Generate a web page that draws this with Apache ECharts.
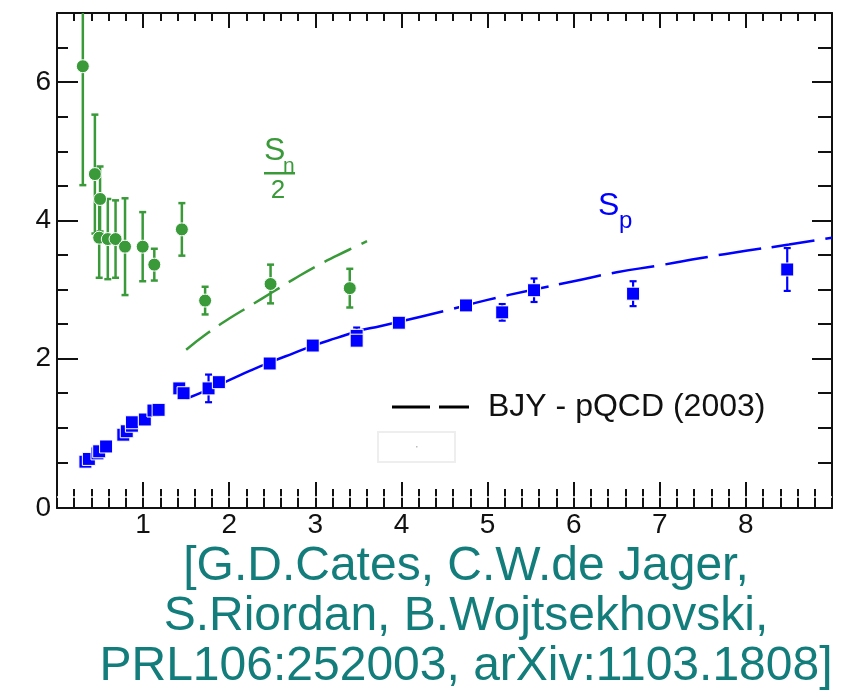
<!DOCTYPE html>
<html>
<head>
<meta charset="utf-8">
<script src="https://cdn.jsdelivr.net/npm/echarts@6/dist/echarts.min.js"></script>
<style>
  html, body { margin: 0; padding: 0; background: #ffffff; }
  #chart { width: 843px; height: 697px; }
</style>
</head>
<body>
<div id="chart"></div>
<script>
// Neutron S_n/2 measurements: x, value, symmetric error
const snX   = [0.30, 0.44, 0.50, 0.49, 0.59, 0.68, 0.79, 0.995, 1.13, 1.45, 1.72, 2.48, 3.40];
const snY   = [6.23, 4.67, 4.31, 3.75, 3.73, 3.73, 3.62, 3.62, 3.36, 3.87, 2.84, 3.08, 3.02];
const snErr = [1.72, 0.86, 0.47, 0.58, 0.58, 0.56, 0.70, 0.50, 0.23, 0.38, 0.20, 0.28, 0.28];

// Proton S_p measurements: x, value, symmetric error
const spX   = [0.33, 0.37, 0.47, 0.49, 0.57, 0.77, 0.81, 0.87, 0.87, 1.02, 1.12, 1.18, 1.42, 1.47, 1.76, 1.88,
               2.47, 2.97, 3.48, 3.48, 3.97, 4.75, 5.17, 5.54, 6.69, 8.48];
const spY   = [0.51, 0.55, 0.63, 0.66, 0.73, 0.90, 0.95, 1.03, 1.08, 1.12, 1.25, 1.26, 1.57, 1.50, 1.57, 1.66,
               1.93, 2.19, 2.33, 2.26, 2.52, 2.77, 2.67, 2.99, 2.94, 3.29];
const spErr = [0.03, 0.03, 0.03, 0.03, 0.03, 0.03, 0.03, 0.03, 0.03, 0.03, 0.03, 0.03, 0.03, 0.03, 0.20, 0.03,
               0.03, 0.03, 0.12, 0.03, 0.03, 0.03, 0.12, 0.17, 0.18, 0.31];

// BJY pQCD prediction for S_n/2
const bjyNX = [1.50, 1.75, 2.00, 2.25, 2.50, 2.75, 3.00, 3.25, 3.50, 3.60];
const bjyNY = [2.13, 2.37, 2.58, 2.77, 2.96, 3.15, 3.33, 3.49, 3.64, 3.70];

// BJY pQCD prediction for S_p (solid part, then dashed continuation)
const bjyPX1 = [1.50, 1.75, 2.00, 2.25, 2.50, 2.75, 3.00, 3.25, 3.50, 3.75, 4.00];
const bjyPY1 = [1.42, 1.55, 1.69, 1.83, 1.96, 2.08, 2.20, 2.30, 2.40, 2.47, 2.54];
const bjyPX2 = [4.00, 4.50, 5.00, 5.50, 6.00, 6.50, 7.00, 7.50, 8.00, 8.50, 9.00];
const bjyPY2 = [2.54, 2.69, 2.85, 2.99, 3.12, 3.25, 3.35, 3.46, 3.56, 3.65, 3.75];

// Axis ranges and tick positions
const xMin = 0, xMax = 9;
const yMin = -0.16, yMax = 7;
const yMajorTicks = [2, 4, 6];
const yMinorTicks = [0.5, 1, 1.5, 2.5, 3, 3.5, 4.5, 5, 5.5, 6.5];
const yLabelValues = [yMin, 2, 4, 6];

const legendName = 'BJY - pQCD (2003)';
const citation = '[G.D.Cates, C.W.de Jager,\nS.Riordan, B.Wojtsekhovski,\nPRL106:252003, arXiv:1103.1808]';

const GREEN = '#3a9a3a';
const BLUE = '#0000ff';
const INK = '#111111';
const TEAL = '#137d7b';
const FONT = '"Liberation Sans", Arial, Helvetica, sans-serif';

const zip = (xs, ...cols) => xs.map((x, i) => [x, ...cols.map(c => c[i])]);

function errorBars(color, cap, width) {
  return function (params, api) {
    const x = api.value(0), y = api.value(1), e = api.value(2);
    const top = api.coord([x, y + e]);
    const bot = api.coord([x, y - e]);
    const h = cap / 2;
    const st = { stroke: color, lineWidth: width };
    return {
      type: 'group',
      children: [
        { type: 'line', shape: { x1: top[0], y1: top[1], x2: bot[0], y2: bot[1] }, style: st },
        { type: 'line', shape: { x1: top[0] - h, y1: top[1], x2: top[0] + h, y2: top[1] }, style: st },
        { type: 'line', shape: { x1: bot[0] - h, y1: bot[1], x2: bot[0] + h, y2: bot[1] }, style: st }
      ]
    };
  };
}

const axisLineStyle = { color: INK, width: 2 };
const tickStyle = { color: INK, width: 2 };

function xAxisDef(position, majorLen, minorLen, labels) {
  return {
    type: 'value', min: xMin, max: xMax, interval: 1, position: position,
    axisLine: { show: true, onZero: false, lineStyle: axisLineStyle },
    axisTick: { show: true, inside: true, length: majorLen, lineStyle: tickStyle },
    minorTick: { show: true, splitNumber: 5, length: minorLen, lineStyle: tickStyle },
    axisLabel: labels ? {
      show: true, showMinLabel: false, showMaxLabel: false,
      fontSize: 28, fontFamily: FONT, color: INK, margin: 3
    } : { show: false },
    splitLine: { show: false }
  };
}

function yAxisDef(position, tickValues, tickLen, showLine, labels) {
  return {
    type: 'value', min: yMin, max: yMax, position: position,
    axisLine: { show: showLine, onZero: false, lineStyle: axisLineStyle },
    axisTick: { show: true, inside: true, length: tickLen, customValues: tickValues, lineStyle: tickStyle },
    axisLabel: labels ? {
      show: true, customValues: yLabelValues,
      formatter: v => (v < 0 ? '0' : String(v)),
      fontSize: 28, fontFamily: FONT, color: INK, margin: 6
    } : { show: false },
    splitLine: { show: false }
  };
}

const chart = echarts.init(document.getElementById('chart'), null, { renderer: 'canvas' });

chart.setOption({
  backgroundColor: '#ffffff',
  animation: false,
  grid: { left: 57, top: 13, right: 11, bottom: 189, containLabel: false },
  xAxis: [
    xAxisDef('bottom', 26, 19, true),
    xAxisDef('top', 15, 8, false)
  ],
  yAxis: [
    yAxisDef('left', yMajorTicks, 21, true, true),
    yAxisDef('left', yMinorTicks, 11, false, false),
    yAxisDef('right', yMajorTicks, 20, true, false),
    yAxisDef('right', yMinorTicks, 14, false, false)
  ],
  legend: {
    left: 387, top: 386,
    itemWidth: 77, itemHeight: 3,
    data: [{ name: legendName, icon: 'path://M0,0H38V3H0Z M47,0H77V3H47Z' }],
    itemStyle: { color: '#000000', borderWidth: 0 },
    textStyle: { fontSize: 32, fontFamily: FONT, color: INK, padding: [0, 0, 0, 14] }
  },
  series: [
    {
      name: legendName, type: 'line', data: [], symbol: 'none', color: '#000000',
      itemStyle: { color: '#000000' },
      lineStyle: { color: '#000000', width: 3, type: [38, 9] }
    },
    {
      type: 'line', name: 'BJY n', data: zip(bjyNX, bjyNY), symbol: 'none', smooth: true,
      lineStyle: { color: GREEN, width: 2.5, type: [30, 11] }, z: 2, silent: true,
      markLine: {
        silent: true, symbol: 'none', label: { show: false },
        lineStyle: { color: '#ffffff', width: 1.5, type: 'solid' },
        data: [{ yAxis: 0 }]
      }
    },
    {
      type: 'line', name: 'BJY p solid', data: zip(bjyPX1, bjyPY1), symbol: 'none', smooth: true,
      lineStyle: { color: BLUE, width: 2.5, type: 'solid' }, z: 2, silent: true
    },
    {
      type: 'line', name: 'BJY p dashed', data: zip(bjyPX2, bjyPY2), symbol: 'none', smooth: true,
      lineStyle: { color: BLUE, width: 2.5, type: [43, 11] }, z: 2, silent: true
    },
    {
      type: 'custom', name: 'Sn err', data: zip(snX, snY, snErr),
      renderItem: errorBars(GREEN, 7, 2.5), encode: { x: 0, y: 1 }, clip: true, z: 3, silent: true
    },
    {
      type: 'custom', name: 'Sp err', data: zip(spX, spY, spErr),
      renderItem: errorBars(BLUE, 7, 2.2), encode: { x: 0, y: 1 }, clip: true, z: 3, silent: true
    },
    {
      type: 'scatter', name: 'Sn/2', data: zip(snX, snY), symbol: 'circle', symbolSize: 13,
      itemStyle: { color: GREEN, borderColor: '#ffffff', borderWidth: 1, opacity: 1 }, z: 4
    },
    {
      type: 'scatter', name: 'Sp', data: zip(spX, spY), symbol: 'rect', symbolSize: 13,
      itemStyle: { color: BLUE, borderColor: '#ffffff', borderWidth: 1, opacity: 1 }, z: 4
    }
  ],
  graphic: [
    // S_p label
    { type: 'text', x: 598, y: 206, style: { text: 'S', font: '32px ' + FONT, fill: BLUE, textAlign: 'left', textVerticalAlign: 'middle', align: 'left', verticalAlign: 'middle' } },
    { type: 'text', x: 619, y: 221, style: { text: 'p', font: '24px ' + FONT, fill: BLUE, textAlign: 'left', textVerticalAlign: 'middle', align: 'left', verticalAlign: 'middle' } },
    // S_n over 2 label
    { type: 'text', x: 264, y: 151, style: { text: 'S', font: '32px ' + FONT, fill: GREEN, textAlign: 'left', textVerticalAlign: 'middle', align: 'left', verticalAlign: 'middle' } },
    { type: 'text', x: 283, y: 166, style: { text: 'n', font: '21px ' + FONT, fill: GREEN, textAlign: 'left', textVerticalAlign: 'middle', align: 'left', verticalAlign: 'middle' } },
    { type: 'rect', shape: { x: 264, y: 172, width: 31, height: 2.5 }, style: { fill: GREEN } },
    { type: 'text', x: 278, y: 191, style: { text: '2', font: '26px ' + FONT, fill: GREEN, textAlign: 'center', textVerticalAlign: 'middle', align: 'center', verticalAlign: 'middle' } },
    // faint empty box under the legend
    { type: 'rect', shape: { x: 378, y: 432, width: 77, height: 30 }, style: { fill: '#ffffff', stroke: '#eeeeee', lineWidth: 2 } },
    { type: 'rect', shape: { x: 416, y: 446, width: 1.5, height: 1.5 }, style: { fill: '#bbbbbb' } },
    // citation
    { type: 'text', x: 466, y: 617, style: { text: citation, font: '48px ' + FONT, fill: TEAL, lineHeight: 50, textAlign: 'center', textVerticalAlign: 'middle', align: 'center', verticalAlign: 'middle' } }
  ]
});
</script>
</body>
</html>
